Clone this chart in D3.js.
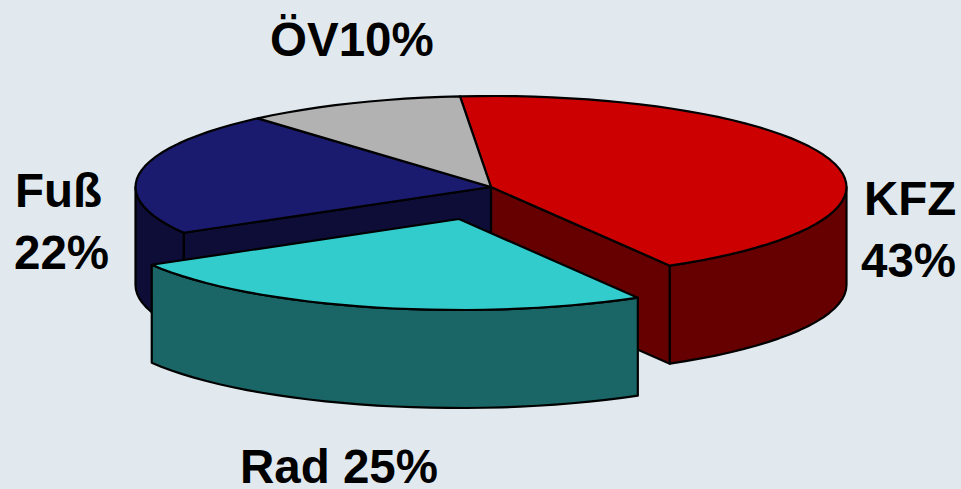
<!DOCTYPE html>
<html>
<head>
<meta charset="utf-8">
<script src="https://cdn.jsdelivr.net/npm/d3@7"></script>
<style>
  html, body { margin: 0; padding: 0; background: #e1e9ef; }
  svg { display: block; }
  text { font-family: "Liberation Sans", Arial, sans-serif; font-weight: bold; font-size: 47.5px; fill: #000; }
</style>
</head>
<body>
<svg id="chart"></svg>
<script>
  const categories = ['KFZ', 'Rad', 'Fuß', 'ÖV'];
  const shares = [43, 25, 22, 10];
  const topColors = ['#cc0000', '#33cccc', '#1a1a6e', '#b2b2b2'];
  const wallColors = ['#660000', '#1a6666', '#0d0d38', '#595959'];

  const width = 961;
  const height = 489;
  const cx = 491;
  const cy = 187;
  const rx = 355.5;
  const ry = 91;
  const depth = 98;
  const explodedCategory = 'Rad';
  const explode = { dx: -32, dy: 32 };
  const arcStep = 3 * Math.PI / 180;

  const svg = d3.select('#chart')
    .attr('width', width)
    .attr('height', height);

  const x = d3.scaleLinear().domain([-1, 1]).range([cx - rx, cx + rx]);
  const y = d3.scaleLinear().domain([-1, 1]).range([cy - ry, cy + ry]);

  const pie = d3.pie()
    .sort(null)
    .startAngle(-5 * Math.PI / 180)
    .endAngle(355 * Math.PI / 180);

  const slices = pie(shares).map((s, i) => ({
    ...s,
    name: categories[i],
    top: topColors[i],
    wall: wallColors[i]
  }));

  // unit circle point for an angle measured clockwise from 12 o'clock
  const onRim = (a) => [x(Math.sin(a)), y(-Math.cos(a))];

  function rimPoints(a0, a1) {
    const n = Math.max(1, Math.ceil((a1 - a0) / arcStep));
    return d3.range(n + 1).map((i) => onRim(a0 + (a1 - a0) * i / n));
  }

  const line = d3.line();
  const closed = (pts) => line(pts) + 'Z';
  const drop = (pts) => pts.map((p) => [p[0], p[1] + depth]);

  function drawPoly(g, pts, fill) {
    g.append('path')
      .attr('d', closed(pts))
      .attr('fill', fill)
      .attr('stroke', '#000')
      .attr('stroke-width', 2.2)
      .attr('stroke-linejoin', 'round');
  }

  function drawWalls(g, s) {
    const front0 = Math.max(s.startAngle, Math.PI / 2);
    const front1 = Math.min(s.endAngle, 3 * Math.PI / 2);
    const center = [cx, cy];

    // cut faces next to the pulled out slice
    if (s.name === 'KFZ') {
      const edge = onRim(s.endAngle);
      drawPoly(g, [center, edge, ...drop([edge, center])], s.wall);
    }
    if (s.name === 'Fuß') {
      const edge = onRim(s.startAngle);
      drawPoly(g, [center, edge, ...drop([edge, center])], s.wall);
    }
    // outer rim
    if (front1 > front0) {
      const rim = rimPoints(front0, front1);
      drawPoly(g, [...rim, ...drop(rim).reverse()], s.wall);
    }
  }

  function drawTop(g, s) {
    drawPoly(g, [[cx, cy], ...rimPoints(s.startAngle, s.endAngle)], s.top);
  }

  const body = svg.append('g');
  const still = slices.filter((s) => s.name !== explodedCategory);
  const pulled = slices.filter((s) => s.name === explodedCategory);

  still.forEach((s) => drawWalls(body, s));
  still.forEach((s) => drawTop(body, s));

  const pulledGroup = svg.append('g')
    .attr('transform', `translate(${explode.dx}, ${explode.dy})`);
  pulled.forEach((s) => {
    drawWalls(pulledGroup, s);
    drawTop(pulledGroup, s);
  });

  const labels = [
    { text: 'ÖV10%', x: 270, y: 56 },
    { text: 'Fuß', x: 15, y: 207 },
    { text: '22%', x: 14, y: 269 },
    { text: 'KFZ', x: 864, y: 215 },
    { text: '43%', x: 861, y: 277 },
    { text: 'Rad 25%', x: 240, y: 483 }
  ];

  svg.append('g')
    .selectAll('text')
    .data(labels)
    .enter()
    .append('text')
    .attr('x', (d) => d.x)
    .attr('y', (d) => d.y)
    .text((d) => d.text);
</script>
</body>
</html>
